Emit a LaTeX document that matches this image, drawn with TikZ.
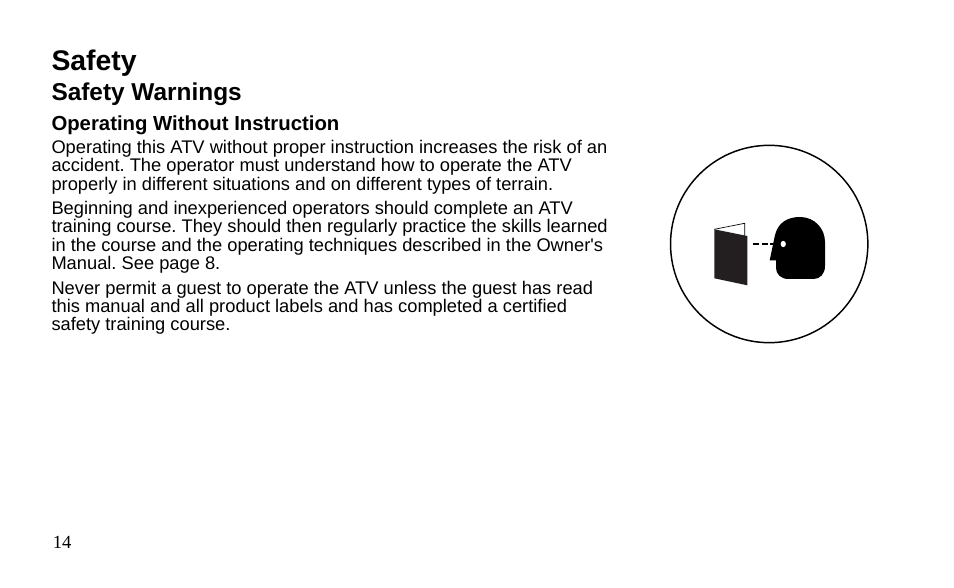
\documentclass[tikz,border=0pt]{standalone}
\usepackage{fontspec}
\setmainfont{Liberation Sans}[Ligatures=TeXOff]
\newfontfamily\pagefont{Liberation Serif}
\usetikzlibrary{positioning}
\definecolor{bookdark}{HTML}{231F20}
\tikzset{
  txt/.style={inner sep=0pt,outer sep=0pt,align=left,anchor=north west,font=\frenchspacing\fontsize{13.72}{13.72}\selectfont},
  heading/.style={inner sep=0pt,outer sep=0pt,anchor=north west,font=\bfseries\fontsize{#1}{#1}\selectfont},
}
\begin{document}
\begin{tikzpicture}[x=0.75pt,y=-0.75pt]
\useasboundingbox[fill=white] (0,0) rectangle (954,588);
\node[heading=21.3](safety) at (51.5,50){Safety};
\node[heading=18.3,below=5pt of safety.south west,anchor=north west](warnings){Safety Warnings};
\node[heading=15.25,below=7pt of warnings.south west,anchor=north west](operating){Operating Without Instruction};
\node[txt,below=4.5pt of operating.south west,anchor=north west](para1){Operating this ATV without proper instruction increases the risk of an\\
accident. The operator must understand how to operate the ATV\\
properly in different situations and on different types of terrain.};
\node[txt,below=5.4pt of para1.south west,anchor=north west](para2){Beginning and inexperienced operators should complete an ATV\\
training course. They should then regularly practice the skills learned\\
in the course and the operating techniques described in the Owner's\\
Manual. See page 8.};
\node[txt,below=6pt of para2.south west,anchor=north west](para3){Never permit a guest to operate the ATV unless the guest has read\\
this manual and all product labels and has completed a certified\\
safety training course.};
\node[inner sep=0pt,anchor=base west,font=\pagefont\fontsize{13.9}{13.9}\selectfont](page) at (52.5,548){14};
% the circle
\node[draw,circle,line width=1.1pt,minimum size=148pt,inner sep=0pt](ring) at (769.2,244){};
% the booklet
\draw[line width=0.5pt,fill=white] (714.3,229.3) -- (744.7,223.3) -- (744.7,236);
\fill[bookdark] (714.3,229.3) -- (747.3,236) -- (747.3,285.3) -- (714.3,278.3) -- cycle;
% the head
\fill[black] (769.7,260.3) -- (775,235)
  .. controls (778,223) and (787,217) .. (800,217)
  .. controls (815,217) and (825,229) .. (825,242)
  -- (825,266)
  .. controls (825,274) and (820,279) .. (813.5,279)
  -- (788.3,279)
  .. controls (781,279) and (776,274) .. (776,268)
  -- (776,260.3) -- cycle;
\fill[white] (783.3,244) ellipse (2.6 and 3.2);
% the gaze
\coordinate (bookend) at (752.7,243.7);
\coordinate (eyeend) at (773.5,243.7);
\draw[line width=1.5pt,dash pattern=on 4.6pt off 2pt] (bookend) -- (eyeend);
\end{tikzpicture}
\end{document}
